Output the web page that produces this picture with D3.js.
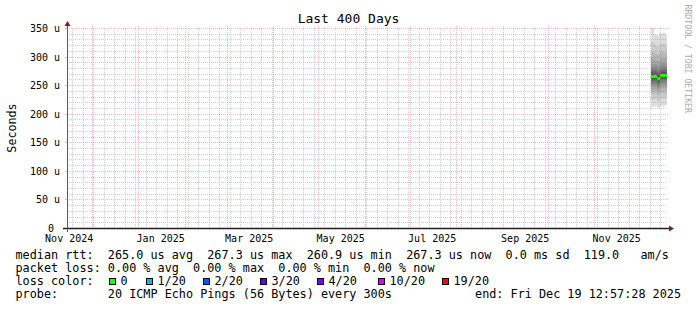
<!DOCTYPE html>
<html>
<head>
<meta charset="utf-8">
<title>Last 400 Days</title>
<script src="https://cdn.jsdelivr.net/npm/d3@7"></script>
<style>
    body { margin: 0; background: #ffffff; }
    svg { display: block; }
    text { font-family: "DejaVu Sans Mono", monospace; fill: #000; white-space: pre; }
</style>
</head>
<body>
<script>
// values (rtt in microseconds)
const graphTitle = "Last 400 Days"
const endTime = new Date(Date.UTC(2025, 11, 19, 12, 57, 28))
const spanDays = 400

const stepDates = ["2025-12-09", "2025-12-10", "2025-12-11", "2025-12-12", "2025-12-13", "2025-12-14",
                   "2025-12-15", "2025-12-16", "2025-12-17", "2025-12-18", "2025-12-19"]
const medianRtt = [265.0, 264.5, 265.5, 264.8, 260.9, 262.0, 267.3, 267.0, 267.3, 266.8, 267.3]

// 20 sorted pings per step
const pingRtt = [
    [211, 224, 234, 241, 247, 252, 256, 259, 262, 264, 266, 269, 272, 276, 281, 288, 297, 309, 326, 356],
    [213, 225, 235, 242, 248, 252, 256, 259, 262, 264, 265, 268, 271, 275, 280, 286, 295, 307, 324, 352],
    [212, 226, 236, 243, 249, 253, 257, 260, 263, 265, 266, 269, 272, 276, 281, 287, 295, 306, 321, 339],
    [214, 225, 235, 242, 248, 252, 256, 259, 262, 264, 265, 268, 271, 275, 280, 286, 294, 304, 319, 338],
    [210, 222, 232, 239, 244, 248, 252, 255, 258, 260, 262, 265, 268, 272, 277, 284, 292, 303, 318, 337],
    [211, 223, 233, 240, 245, 249, 253, 256, 259, 261, 263, 266, 269, 273, 278, 285, 293, 304, 319, 338],
    [213, 227, 237, 244, 250, 255, 259, 262, 265, 267, 268, 271, 274, 278, 283, 289, 297, 308, 323, 341],
    [214, 226, 236, 244, 250, 254, 258, 262, 264, 266, 268, 270, 273, 277, 282, 288, 296, 307, 322, 340],
    [212, 227, 237, 245, 251, 255, 259, 262, 265, 267, 268, 271, 274, 278, 283, 289, 297, 308, 324, 342],
    [215, 226, 236, 244, 250, 255, 259, 262, 264, 266, 268, 270, 273, 277, 282, 288, 296, 306, 321, 340],
    [216, 228, 238, 245, 251, 255, 259, 262, 265, 267, 268, 271, 274, 278, 282, 288, 296, 306, 320, 338]
]

const yTicks = [0, 50, 100, 150, 200, 250, 300, 350]
const yTickLabels = ["0 ", "50 u", "100 u", "150 u", "200 u", "250 u", "300 u", "350 u"]
const xLabelMonths = ["2024-11-01", "2025-01-01", "2025-03-01", "2025-05-01", "2025-07-01", "2025-09-01", "2025-11-01"]
const xLabels = ["Nov 2024", "Jan 2025", "Mar 2025", "May 2025", "Jul 2025", "Sep 2025", "Nov 2025"]

const lossLabels = ["0", "1/20", "2/20", "3/20", "4/20", "10/20", "19/20"]
const lossColors = ["#26ff00", "#00b8ff", "#0059ff", "#5e00ff", "#7e00ff", "#dd00ff", "#ff0000"]

const rttLegend = "median rtt:  265.0 us avg  267.3 us max  260.9 us min  267.3 us now  0.0 ms sd  119.0   am/s"
const lossLegend = "packet loss: 0.00 % avg  0.00 % max  0.00 % min  0.00 % now"
const lossColorLegend = "loss color:"
const probeLegend = "probe:       20 ICMP Echo Pings (56 Bytes) every 300s"
const endLegend = "end: Fri Dec 19 12:57:28 2025"

// layout
const width = 697, height = 310
const xorigin = 67, yorigin = 228, xsize = 600, ysize = 200
const lossBoxX = [109.5, 146.5, 203.5, 260.5, 317.5, 378.5, 442.5]
const legendY = [258.5, 271.8, 285, 298.3]

const svg = d3.select("body").append("svg")
    .attr("width", width)
    .attr("height", height)

svg.append("rect").attr("width", width).attr("height", height).attr("fill", "#ffffff")

const startTime = new Date(endTime.getTime() - spanDays * 86400000)
const x = d3.scaleUtc().domain([startTime, endTime]).range([xorigin, xorigin + xsize])
const y = d3.scaleLinear().domain([0, 350]).range([yorigin, yorigin - ysize])

function crisp(v) {
    return Math.round(v) + 0.5
}

svg.append("clipPath").attr("id", "plotclip")
    .append("rect")
    .attr("x", xorigin).attr("y", yorigin - ysize)
    .attr("width", xsize).attr("height", ysize)

// ---- smoke ----
let rows = stepDates.map(function (s, i) {
    return { t: new Date(s + "T00:00:00Z"), p: pingRtt[i], m: medianRtt[i] }
})
rows.push({ t: endTime, p: pingRtt[pingRtt.length - 1], m: medianRtt[medianRtt.length - 1] })

let plot = svg.append("g").attr("clip-path", "url(#plotclip)")
let half = pingRtt[0].length / 2
for (let ibot = 1; ibot <= half; ibot++) {
    let itop = pingRtt[0].length + 1 - ibot
    let c = Math.floor(190 / half * (half - ibot)) + 50
    let smoke = d3.area()
        .curve(d3.curveStepAfter)
        .x(function (d) { return x(d.t) })
        .y0(function (d) { return y(d.p[ibot - 1]) })
        .y1(function (d) { return y(d.p[itop - 1]) })
    plot.append("path")
        .datum(rows)
        .attr("d", smoke)
        .attr("fill", d3.rgb(c, c, c))
}

// median, coloured by loss (0 loss here)
let medianBand = d3.area()
    .curve(d3.curveStepAfter)
    .x(function (d) { return x(d.t) })
    .y0(function (d) { return y(d.m) + 1.5 })
    .y1(function (d) { return y(d.m) - 1.5 })
plot.append("path")
    .datum(rows)
    .attr("d", medianBand)
    .attr("fill", lossColors[0])

// ---- grid ----
let grid = svg.append("g")
const minorCol = "rgba(143,143,143,0.42)"
const majorCol = "rgba(222,80,80,0.38)"

let hMinor = d3.range(10, 350, 10).filter(function (v) { return v % 50 !== 0 })
grid.selectAll("line.hminor")
    .data(hMinor)
    .enter()
    .append("line")
    .attr("x1", xorigin).attr("x2", xorigin + xsize)
    .attr("y1", function (d) { return crisp(y(d)) })
    .attr("y2", function (d) { return crisp(y(d)) })
    .attr("stroke", minorCol)
    .attr("stroke-dasharray", "1,1")

let majorMonths = d3.utcMonth.range(startTime, endTime)
let minorWeeks = d3.utcMonday.range(startTime, endTime).filter(function (w) {
    return !majorMonths.some(function (m) { return Math.round(x(m)) === Math.round(x(w)) })
})

grid.selectAll("line.vminor")
    .data(minorWeeks)
    .enter()
    .append("line")
    .attr("x1", function (d) { return crisp(x(d)) })
    .attr("x2", function (d) { return crisp(x(d)) })
    .attr("y1", yorigin - ysize).attr("y2", yorigin)
    .attr("stroke", minorCol)
    .attr("stroke-dasharray", "1,1")

grid.selectAll("line.hmajor")
    .data(yTicks.slice(1))
    .enter()
    .append("line")
    .attr("x1", xorigin).attr("x2", xorigin + xsize + 2)
    .attr("y1", function (d) { return crisp(y(d)) })
    .attr("y2", function (d) { return crisp(y(d)) })
    .attr("stroke", majorCol)
    .attr("stroke-dasharray", "1,1")

grid.selectAll("line.htick")
    .data(yTicks.slice(1))
    .enter()
    .append("line")
    .attr("x1", xorigin - 2).attr("x2", xorigin)
    .attr("y1", function (d) { return crisp(y(d)) })
    .attr("y2", function (d) { return crisp(y(d)) })
    .attr("stroke", majorCol)

grid.selectAll("line.vmajor")
    .data(majorMonths)
    .enter()
    .append("line")
    .attr("x1", function (d) { return crisp(x(d)) })
    .attr("x2", function (d) { return crisp(x(d)) })
    .attr("y1", yorigin - ysize - 2).attr("y2", yorigin + 2)
    .attr("stroke", majorCol)
    .attr("stroke-dasharray", "1,1")

// ---- axes ----
svg.append("line")
    .attr("x1", xorigin - 4).attr("x2", xorigin + xsize + 3)
    .attr("y1", yorigin + 0.5).attr("y2", yorigin + 0.5)
    .attr("stroke", "#1f1f1f").attr("stroke-width", 1.3)
svg.append("line")
    .attr("x1", xorigin + 0.5).attr("x2", xorigin + 0.5)
    .attr("y1", yorigin + 4).attr("y2", yorigin - ysize - 3)
    .attr("stroke", "#5a5a5a").attr("stroke-width", 1)

svg.append("path")
    .attr("d", d3.line()([[xorigin + xsize + 2, yorigin - 2.5], [xorigin + xsize + 2, yorigin + 3.5], [xorigin + xsize + 7, yorigin + 0.5]]) + "Z")
    .attr("fill", "#7f1f1f")
svg.append("path")
    .attr("d", d3.line()([[xorigin - 2.5, yorigin - ysize - 2], [xorigin + 3.5, yorigin - ysize - 2], [xorigin + 0.5, yorigin - ysize - 7]]) + "Z")
    .attr("fill", "#7f1f1f")

svg.selectAll("text.ylab")
    .data(yTicks)
    .enter()
    .append("text")
    .attr("x", 60)
    .attr("y", function (d) { return crisp(y(d)) + 3.3 })
    .attr("text-anchor", "end")
    .style("font-size", "10px")
    .text(function (d, i) { return yTickLabels[i] })

svg.selectAll("text.xlab")
    .data(xLabelMonths)
    .enter()
    .append("text")
    .attr("x", function (d) { return x(new Date(Date.parse(d + "T00:00:00Z") + 15 * 86400000)) })
    .attr("y", 242)
    .attr("text-anchor", "middle")
    .style("font-size", "10px")
    .text(function (d, i) { return xLabels[i] })

// ---- titles ----
svg.append("text")
    .attr("x", width / 2).attr("y", 23)
    .attr("text-anchor", "middle")
    .style("font-size", "13px")
    .text(graphTitle)

svg.append("text")
    .attr("transform", "translate(15.5," + (yorigin - ysize / 2) + ") rotate(-90)")
    .attr("text-anchor", "middle")
    .style("font-size", "11.7px")
    .text("Seconds")

svg.append("text")
    .attr("transform", "translate(685,4.5) rotate(90)")
    .style("font-size", "8.2px")
    .style("fill", "#ababab")
    .text("RRDTOOL / TOBI OETIKER")

// ---- legend ----
let legend = svg.append("g").style("font-size", "11.8px")
legend.append("text").attr("x", 15.5).attr("y", legendY[0]).text(rttLegend)
legend.append("text").attr("x", 15.5).attr("y", legendY[1]).text(lossLegend)
legend.append("text").attr("x", 15.5).attr("y", legendY[2]).text(lossColorLegend)
legend.append("text").attr("x", 15.5).attr("y", legendY[3]).text(probeLegend)
legend.append("text").attr("x", 681).attr("y", legendY[3]).attr("text-anchor", "end").text(endLegend)

legend.selectAll("rect.loss")
    .data(lossLabels)
    .enter()
    .append("rect")
    .attr("x", function (d, i) { return lossBoxX[i] })
    .attr("y", legendY[2] - 6.5)
    .attr("width", 6).attr("height", 6)
    .attr("fill", function (d, i) { return lossColors[i] })
    .attr("stroke", "#000")
legend.selectAll("text.loss")
    .data(lossLabels)
    .enter()
    .append("text")
    .attr("x", function (d, i) { return lossBoxX[i] + 11 })
    .attr("y", legendY[2])
    .text(function (d) { return d })
</script>
</body>
</html>
